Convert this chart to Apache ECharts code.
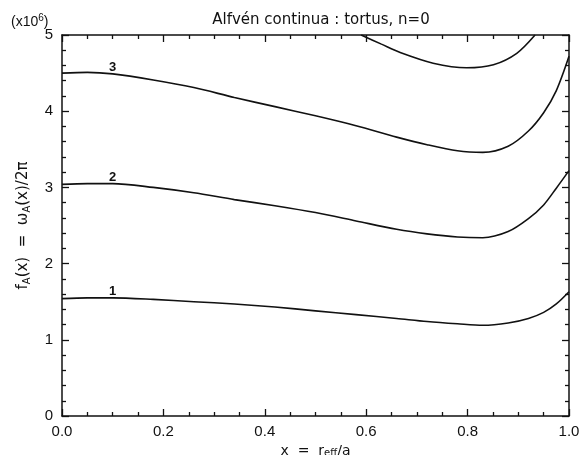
<!DOCTYPE html>
<html>
<head>
<meta charset="utf-8">
<script src="https://cdn.jsdelivr.net/npm/echarts@6/dist/echarts.min.js"></script>
<style>
html, body { margin: 0; padding: 0; background: #fff; }
#chartmain { width: 585px; height: 455px; }
</style>
</head>
<body>
<div id="chartmain"></div>
<script>
// x positions shared by curves 1-3
var xs = [0, 0.05, 0.1, 0.18, 0.26, 0.34, 0.42, 0.5, 0.58, 0.66, 0.72, 0.78, 0.83, 0.88, 0.92, 0.95, 0.975, 1.0];
var curve1 = [1.54, 1.55, 1.55, 1.53, 1.50, 1.47, 1.43, 1.38, 1.33, 1.28, 1.24, 1.21, 1.19, 1.22, 1.28, 1.36, 1.47, 1.63];
var curve2 = [3.04, 3.05, 3.05, 3.00, 2.93, 2.84, 2.76, 2.67, 2.56, 2.45, 2.39, 2.35, 2.34, 2.42, 2.59, 2.77, 2.99, 3.22];
var curve3 = [4.50, 4.51, 4.49, 4.41, 4.31, 4.18, 4.06, 3.94, 3.81, 3.66, 3.56, 3.48, 3.46, 3.54, 3.74, 3.98, 4.27, 4.72];
// upper branch, leaves the frame at the top
var xs4 = [0.59, 0.63, 0.667, 0.732, 0.798, 0.851, 0.897, 0.933];
var curve4 = [5.0, 4.88, 4.77, 4.63, 4.57, 4.61, 4.76, 5.0];
var curveNames = ['1', '2', '3'];

var chart = echarts.init(document.getElementById('chartmain'));
var FONT = 'Liberation Sans';
var INK = '#111';

function pairs(x, y) {
    return x.map(function (v, i) { return [v, y[i]]; });
}

function curve(name, x, y, labelAt) {
    var s = {
        name: name,
        type: 'line',
        data: pairs(x, y),
        smooth: 0.3,
        symbol: 'none',
        clip: true,
        lineStyle: { color: INK, width: 1.6 },
        silent: true
    };
    if (labelAt !== undefined) {
        s.markPoint = {
            symbol: 'circle',
            symbolSize: 0,
            label: { show: true, position: 'top', distance: 0, formatter: name, color: INK, fontFamily: FONT, fontSize: 13, fontWeight: 'bold' },
            data: [{ coord: [x[labelAt], y[labelAt]] }]
        };
    }
    return s;
}

// frame axis: line + inward ticks, optionally labels
function frameAxis(extra) {
    var a = {
        type: 'value',
        axisLine: { onZero: false, lineStyle: { color: INK, width: 1.5 } },
        axisTick: { inside: true, length: 7, lineStyle: { color: INK, width: 1.3 } },
        minorTick: { show: true, length: 4, lineStyle: { color: INK, width: 1.3 } },
        splitLine: { show: false },
        axisLabel: { show: false }
    };
    for (var k in extra) {
        if (k === 'minorTick') {
            a.minorTick.splitNumber = extra[k].splitNumber;
        } else {
            a[k] = extra[k];
        }
    }
    return a;
}

option = {
    animation: false,
    title: [
        {
            text: 'Alfvén continua : tortus, n=0',
            left: 316, top: 8, textAlign: 'center',
            textStyle: { color: INK, fontFamily: 'DejaVu Sans', fontSize: 15, fontWeight: 'normal' }
        },
        {
            text: '(x10{sup|6})',
            left: 6, top: 8,
            textStyle: {
                color: INK, fontFamily: FONT, fontSize: 14, fontWeight: 'normal',
                rich: { sup: { fontSize: 10, verticalAlign: 'top', padding: [0, 0, 8, 0] } }
            }
        }
    ],
    grid: { left: 62, right: 16, top: 35, bottom: 39, containLabel: false, outerBoundsMode: 'none' },
    xAxis: [
        frameAxis({
            min: 0, max: 1, interval: 0.2,
            minorTick: { splitNumber: 4 },
            name: 'x  =  r{sub|eff}/a',
            nameLocation: 'middle', nameGap: 17,
            nameTextStyle: {
                color: INK, fontFamily: 'DejaVu Sans', fontSize: 14,
                rich: { sub: { fontSize: 10, verticalAlign: 'bottom', padding: [5, 0, 0, 0] } }
            },
            axisLabel: {
                show: true, color: INK, fontFamily: FONT, fontSize: 15, margin: 8,
                formatter: function (v) { return v.toFixed(1); }
            }
        }),
        frameAxis({
            min: 0, max: 1, interval: 0.2, position: 'top',
            minorTick: { splitNumber: 4 }
        })
    ],
    yAxis: [
        frameAxis({
            min: 0, max: 5, interval: 1,
            minorTick: { splitNumber: 5 },
            name: 'f{sub|A}(x)  =  ω{sub|A}(x)/2π',
            nameLocation: 'middle', nameGap: 30,
            nameTextStyle: {
                color: INK, fontFamily: 'DejaVu Sans', fontSize: 15,
                rich: { sub: { fontSize: 10, verticalAlign: 'bottom', padding: [7, 0, 0, 0] } }
            },
            axisLabel: { show: true, color: INK, fontFamily: FONT, fontSize: 15, margin: 9 }
        }),
        frameAxis({
            min: 0, max: 5, interval: 1, position: 'right',
            minorTick: { splitNumber: 5 }
        })
    ],
    series: [
        curve(curveNames[0], xs, curve1, 2),
        curve(curveNames[1], xs, curve2, 2),
        curve(curveNames[2], xs, curve3, 2),
        curve('4', xs4, curve4)
    ]
};

chart.setOption(option);
</script>
</body>
</html>
